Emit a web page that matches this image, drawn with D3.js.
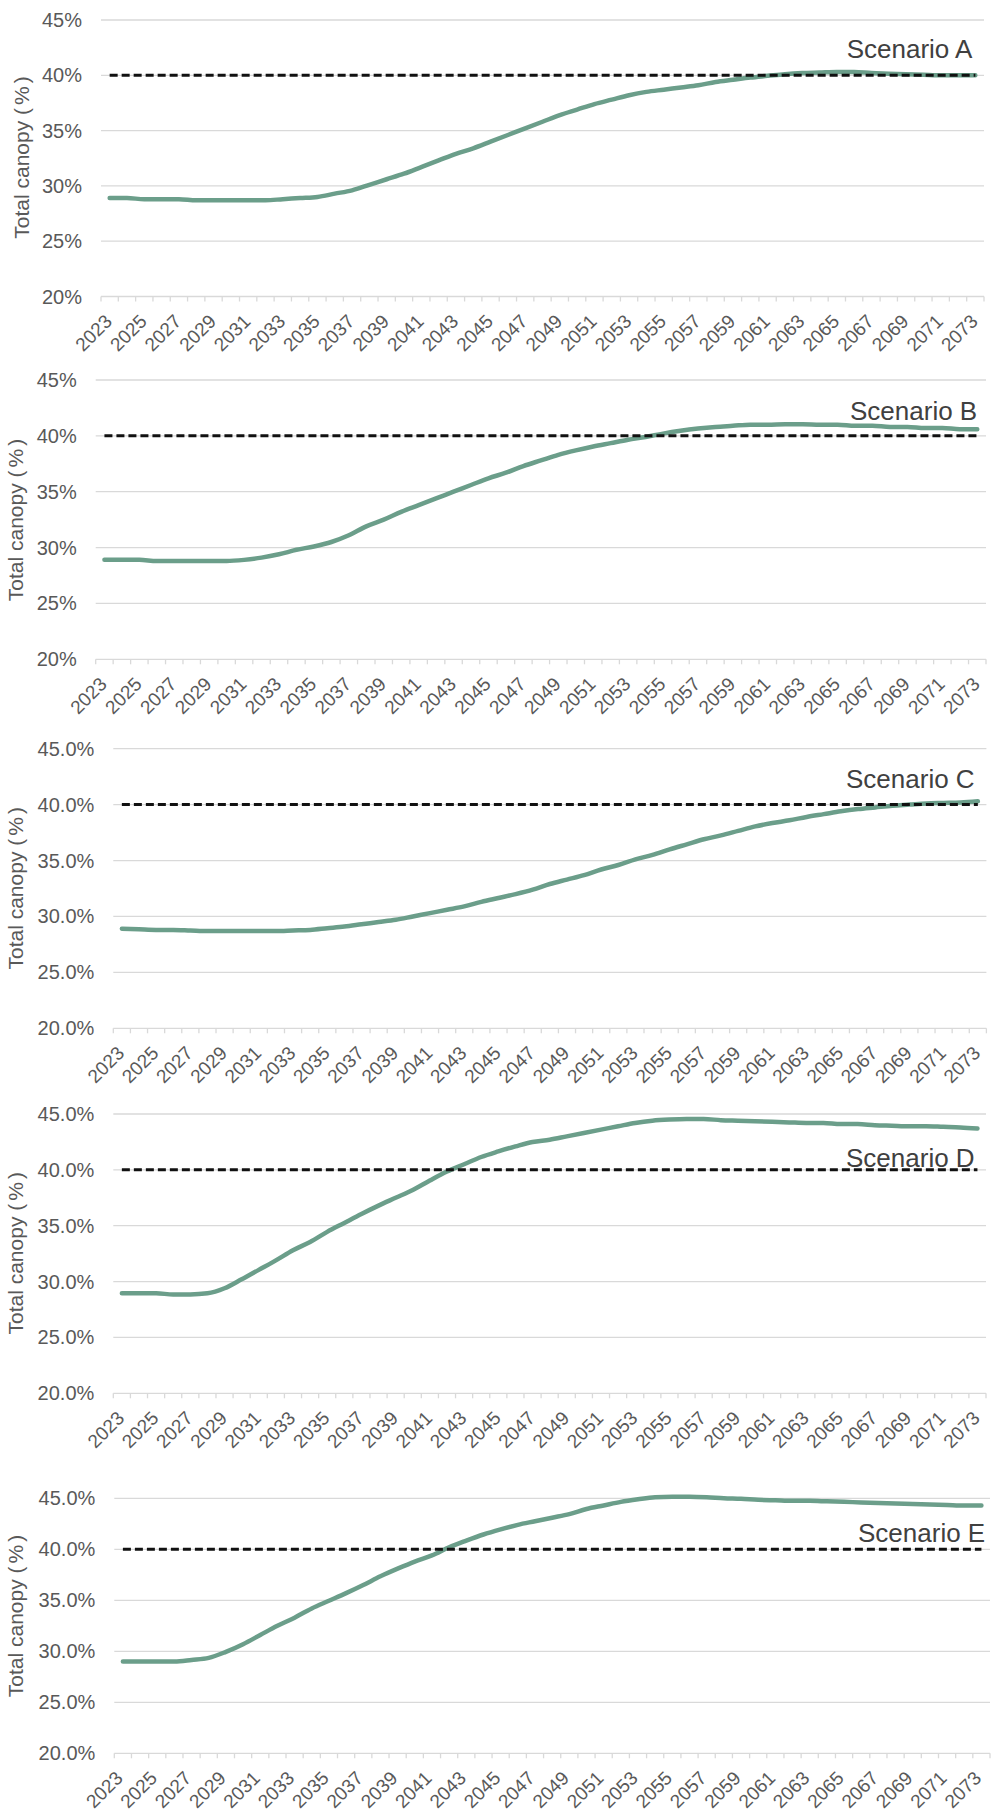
<!DOCTYPE html>
<html>
<head>
<meta charset="utf-8">
<script src="https://cdn.jsdelivr.net/npm/d3@7"></script>
<style>
  html, body { margin: 0; padding: 0; background: #ffffff; }
  svg { display: block; }
</style>
</head>
<body>
<svg id="chart" width="991" height="1812"></svg>
<script>
// ---------------- DATA ----------------
const years = [2023,2024,2025,2026,2027,2028,2029,2030,2031,2032,
  2033,2034,2035,2036,2037,2038,2039,2040,2041,2042,
  2043,2044,2045,2046,2047,2048,2049,2050,2051,2052,
  2053,2054,2055,2056,2057,2058,2059,2060,2061,2062,
  2063,2064,2065,2066,2067,2068,2069,2070,2071,2072,2073];

const scenarioA = [28.9,28.9,28.8,28.8,28.8,28.7,28.7,28.7,28.7,28.7,
  28.8,28.9,29.0,29.3,29.6,30.1,30.6,31.1,31.7,32.3,
  32.9,33.4,34.0,34.6,35.2,35.8,36.4,36.9,37.4,37.8,
  38.2,38.5,38.7,38.9,39.1,39.4,39.6,39.8,39.95,40.1,
  40.2,40.25,40.3,40.3,40.2,40.15,40.1,40.05,40.0,40.0,40.0];

const scenarioB = [28.9,28.9,28.9,28.8,28.8,28.8,28.8,28.8,28.9,29.1,
  29.4,29.8,30.1,30.5,31.1,31.9,32.5,33.2,33.8,34.4,
  35.0,35.6,36.2,36.7,37.3,37.8,38.3,38.7,39.05,39.35,
  39.65,39.9,40.2,40.45,40.65,40.8,40.9,41.0,41.0,41.05,
  41.05,41.0,41.0,40.9,40.9,40.8,40.8,40.7,40.7,40.6,40.6];

const scenarioC = [28.9,28.85,28.8,28.8,28.75,28.7,28.7,28.7,28.7,28.7,
  28.75,28.8,28.95,29.1,29.3,29.5,29.7,30.0,30.3,30.6,
  30.9,31.3,31.65,32.0,32.4,32.9,33.3,33.7,34.2,34.6,
  35.1,35.5,36.0,36.45,36.9,37.25,37.65,38.05,38.35,38.6,
  38.9,39.15,39.4,39.6,39.75,39.9,40.0,40.1,40.15,40.2,40.3];

const scenarioD = [28.95,28.95,28.95,28.85,28.85,28.95,29.4,30.2,31.05,31.9,
  32.8,33.55,34.45,35.25,36.05,36.8,37.5,38.2,39.05,39.85,
  40.5,41.15,41.65,42.1,42.5,42.7,43.0,43.3,43.6,43.9,
  44.2,44.4,44.5,44.55,44.55,44.45,44.4,44.35,44.3,44.25,
  44.2,44.2,44.1,44.1,44.0,43.95,43.9,43.9,43.85,43.8,43.7];

const scenarioE = [29.0,29.0,29.0,29.0,29.15,29.35,29.95,30.7,31.6,32.5,
  33.3,34.2,34.95,35.7,36.5,37.35,38.1,38.8,39.4,40.2,
  40.85,41.45,41.95,42.4,42.75,43.1,43.45,43.95,44.3,44.65,
  44.9,45.1,45.15,45.15,45.1,45.0,44.95,44.85,44.8,44.75,
  44.75,44.7,44.65,44.6,44.55,44.5,44.45,44.4,44.35,44.3,44.3];

const targetValue = 40;
const yTicks = [20, 25, 30, 35, 40, 45];
const scenarioNames = ["Scenario A", "Scenario B", "Scenario C", "Scenario D", "Scenario E"];
const tickFormats = [".0f", ".0f", ".1f", ".1f", ".1f"];
const yTitle = ["Total canopy (", "%", ")"];
const seriesList = [scenarioA, scenarioB, scenarioC, scenarioD, scenarioE];

// ---------------- LAYOUT ----------------
const layouts = [
  {top: 20,     bottom: 296.5,  left: 101,   right: 984,   titleX: 29.3, titleY: 157.5,  labelX: 846.7, labelY: 58.3,   xLabDx: 3.6},
  {top: 380,    bottom: 659.3,  left: 95.7,  right: 986,   titleX: 22.6, titleY: 520,    labelX: 850,   labelY: 420,    xLabDx: 3.6},
  {top: 748.7,  bottom: 1028.3, left: 113.3, right: 986.4, titleX: 22.6, titleY: 888.3,  labelX: 846,   labelY: 788.3,  xLabDx: 3.6},
  {top: 1114,   bottom: 1393.3, left: 113.3, right: 986,   titleX: 22.6, titleY: 1253.3, labelX: 846,   labelY: 1166.7, xLabDx: 3.6},
  {top: 1498.3, bottom: 1753.3, left: 114.3, right: 990,   titleX: 22.6, titleY: 1616,   labelX: 858,   labelY: 1541.7, xLabDx: 1}
];

const FONT = "'Liberation Sans', Arial, Helvetica, sans-serif";
const GRID = "#d9d9d9";
const TEXT = "#595959";
const LINE = "#6b9e8a";

const svg = d3.select("#chart");
svg.append("rect").attr("width", 991).attr("height", 1812).attr("fill", "#fff");

seriesList.forEach((series, p) => {
  const L = layouts[p];
  const g = svg.append("g");
  const x = d3.scaleBand().domain(years).range([L.left, L.right]).padding(0);
  const y = d3.scaleLinear().domain([20, 45]).range([L.bottom, L.top]);
  const bw = x.bandwidth();
  const fmt = d3.format(tickFormats[p]);

  // gridlines
  g.selectAll("line.grid").data(yTicks).join("line")
    .attr("x1", L.left).attr("x2", L.right)
    .attr("y1", d => y(d)).attr("y2", d => y(d))
    .attr("stroke", GRID).attr("stroke-width", 1.3);

  // tick marks at band boundaries
  const bounds = years.map(d => x(d)).concat([x(years[years.length - 1]) + bw]);
  g.selectAll("line.tick").data(bounds).join("line")
    .attr("x1", d => d).attr("x2", d => d)
    .attr("y1", y(20)).attr("y2", y(20) + 5)
    .attr("stroke", GRID).attr("stroke-width", 1.3);

  // y tick labels
  g.selectAll("text.ylab").data(yTicks).join("text")
    .attr("x", L.left - 19).attr("y", d => y(d)).attr("dy", "0.35em")
    .attr("text-anchor", "end")
    .attr("font-family", FONT).attr("font-size", 20).attr("fill", TEXT)
    .text(d => fmt(d) + "%");

  // x tick labels (every other year)
  g.selectAll("text.xlab").data(years.filter((d, i) => i % 2 === 0)).join("text")
    .attr("transform", d => `translate(${x(d) + bw / 2 + L.xLabDx},${y(20) + 26}) rotate(-45)`)
    .attr("text-anchor", "end")
    .attr("font-family", FONT).attr("font-size", 19).attr("fill", TEXT)
    .text(d => d);

  // y title
  const t = g.append("text")
    .attr("transform", `translate(${L.titleX},${L.titleY}) rotate(-90)`)
    .attr("text-anchor", "middle")
    .attr("font-family", FONT).attr("font-size", 21).attr("fill", TEXT);
  t.append("tspan").text(yTitle[0]);
  t.append("tspan").attr("dx", 3).text(yTitle[1]);
  t.append("tspan").attr("dx", 3).text(yTitle[2]);

  // data line
  const line = d3.line()
    .x((d, i) => x(years[i]) + bw / 2)
    .y(d => y(d))
    .curve(d3.curveMonotoneX);
  g.append("path").datum(series)
    .attr("d", line)
    .attr("fill", "none").attr("stroke", LINE).attr("stroke-width", 4.5)
    .attr("stroke-linecap", "round").attr("stroke-linejoin", "round");

  // target dashed line
  const target = years.map(() => targetValue);
  g.append("path").datum(target)
    .attr("d", d3.line().x((d, i) => x(years[i]) + bw / 2).y(d => y(d)))
    .attr("fill", "none").attr("stroke", "#111").attr("stroke-width", 3)
    .attr("stroke-dasharray", "8,4");

  // scenario label
  g.append("text")
    .attr("x", L.labelX).attr("y", L.labelY)
    .attr("font-family", FONT).attr("font-size", 26).attr("fill", "#404040")
    .text(scenarioNames[p]);
});
</script>
</body>
</html>
